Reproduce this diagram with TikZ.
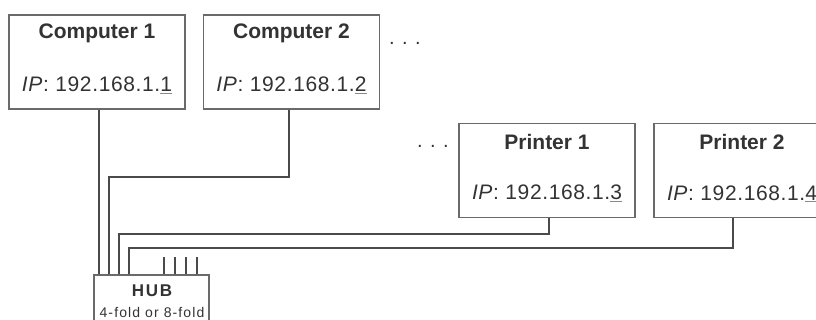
\documentclass[tikz,border=0pt]{standalone}
\usepackage{fontspec}
\setmainfont{Liberation Sans}
\definecolor{txt}{HTML}{333333}
\definecolor{frame}{HTML}{6A6A6A}
\definecolor{wire}{HTML}{4A4A4A}
\definecolor{ulcol}{HTML}{8A8A8A}
\newcommand\lastdigit[1]{{\color{ulcol}\underline{\color{txt}#1}}}
\begin{document}
\begin{tikzpicture}[x=1pt,y=-1pt,
  devbox/.style={draw=frame, line width=1.6pt, minimum width=176pt, minimum height=94pt, inner sep=0pt, fill=white},
  hubbox/.style={draw=frame, line width=1.6pt, minimum width=115pt, minimum height=60pt, inner sep=0pt, fill=white},
  devtitle/.style={text=txt, font=\fontsize{21}{24}\selectfont\bfseries, inner sep=0pt},
  iptext/.style={text=txt, font=\fontsize{21}{24}\selectfont\addfontfeature{LetterSpace=3}, inner sep=0pt},
  hubtitle/.style={text=txt, font=\fontsize{17}{20}\selectfont\bfseries\addfontfeature{LetterSpace=10}, inner sep=0pt},
  hubsub/.style={text=txt, font=\fontsize{14}{16}\selectfont\addfontfeature{LetterSpace=8}, inner sep=0pt},
  dots/.style={text=txt, font=\fontsize{20}{22}\selectfont, inner sep=0pt, anchor=base west},
  wirestyle/.style={draw=wire, line width=1.6pt}]
\useasboundingbox (0,0) rectangle (816,320);
\clip (0,0) rectangle (816,320);
\fill[white] (0,0) rectangle (816,320);

% hub ports
\coordinate (hp1) at (99,275);
\coordinate (hp2) at (109,275);
\coordinate (hp3) at (119,275);
\coordinate (hp4) at (129,275);
\coordinate (hs1) at (164,275);
\coordinate (hs2) at (175,275);
\coordinate (hs3) at (186,275);
\coordinate (hs4) at (197,275);

% devices
\node[devbox] (c1) at (97,62) {};
\node[devbox] (c2) at (291.5,62) {};
\node[devbox] (p1) at (547,170.5) {};
\node[devbox] (p2) at (742,170.5) {};

% wires
\draw[wirestyle] (c1.south -| hp1) -- (hp1);
\draw[wirestyle] ([xshift=-2.5pt]c2.south) -- ++(0,67) -| (hp2);
\draw[wirestyle] ([xshift=2pt]p1.south) -- ++(0,16) -| (hp3);
\draw[wirestyle] ([xshift=-9pt]p2.south) -- ++(0,30) -| (hp4);
\foreach \s in {hs1,hs2,hs3,hs4} \draw[wirestyle] (\s) -- ++(0,-18);

% hub
\node[hubbox] (hub) at (151.5,305) {};
\node[hubtitle] (hubt) at (152,291) {HUB};
\node[hubsub] (hubs) at (152,312) {4-fold or 8-fold};

% texts
\node[devtitle] (c1t) at ([yshift=-19pt]c1.north) {Computer 1};
\node[iptext] (c1ip) at ([yshift=-71pt]c1.north) {\textit{IP}: 192.168.1.\lastdigit{1}};
\node[devtitle] (c2t) at ([yshift=-19pt]c2.north) {Computer 2};
\node[iptext] (c2ip) at ([yshift=-71pt]c2.north) {\textit{IP}: 192.168.1.\lastdigit{2}};
\node[devtitle] (p1t) at ([yshift=-19pt]p1.north) {Printer 1};
\node[iptext] (p1ip) at ([yshift=-71pt]p1.north) {\textit{IP}: 192.168.1.\lastdigit{3}};
\node[devtitle] (p2t) at ([yshift=-19pt]p2.north) {Printer 2};
\node[iptext] (p2ip) at ([yshift=-71pt]p2.north) {\textit{IP}: 192.168.1.\lastdigit{4}};

\node[dots] (d1) at (389,44.5) {. . .};
\node[dots] (d2) at (417,147.5) {. . .};
\end{tikzpicture}
\end{document}
